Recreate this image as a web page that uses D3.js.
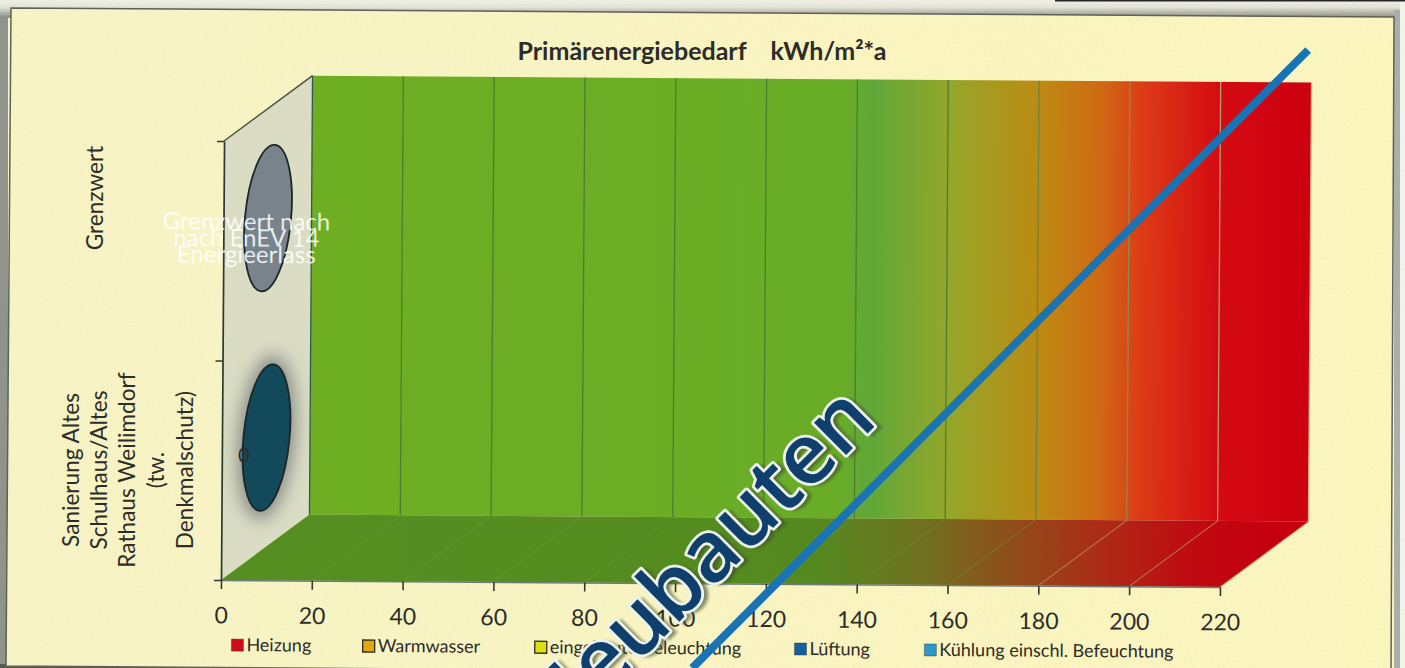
<!DOCTYPE html>
<html>
<head>
<meta charset="utf-8">
<script src="https://cdn.jsdelivr.net/npm/d3@7"></script>
<style>
  html, body { margin: 0; padding: 0; background: #fbf6c6; overflow: hidden; }
  text { font-family: Lato, "Open Sans", sans-serif; fill: #2c2c28; }
</style>
</head>
<body>
<div id="chart"></div>
<script>
// chart data
const title = "Primärenergiebedarf    kWh/m²*a";
const categories = ["Grenzwert", "Sanierung"];
const categoryLines = [
  ["Grenzwert"],
  ["Sanierung Altes", "Schulhaus/Altes", "Rathaus Weilimdorf", "(tw.", "Denkmalschutz)"]
];
const barValues = [0, 0];
const barColors = ["#78838b", "#124a5c"];
const valueTicks = [0, 20, 40, 60, 80, 100, 120, 140, 160, 180, 200, 220];
const grenzwertLabel = ["Grenzwert nach", "nach EnEV 14", "Energieerlass"];
const legendNames = ["Heizung", "Warmwasser", "eingebaute Beleuchtung", "Lüftung", "Kühlung einschl. Befeuchtung"];
const legendColors = ["#d0091c", "#e0a80e", "#dede10", "#12609c", "#2f97c9"];
const legendAt = [2.4, 31.3, 69.2, 126.4, 155]; // legend swatches, read in kWh on the value axis
// the diagonal "Neubauten" line, [kWh, share of wall height]
const neubautenLine = [[103.9, -0.193], [238.6, 1.2246]];
const wallStops = [
  [0, "#6fae22"], [0.53, "#69ad27"], [0.56, "#5fa838"], [0.64, "#94a72a"],
  [0.73, "#bd8a12"], [0.79, "#cf6a14"], [0.83, "#dc3c16"], [0.91, "#d40a12"], [1, "#cc0010"]
];
const floorStops = [
  [0, "#558f22"], [0.55, "#548a1f"], [0.66, "#70701f"],
  [0.76, "#94481a"], [0.84, "#ad2a16"], [0.92, "#bf0c12"], [1, "#c40010"]
];

const width = 1405;
const height = 668;
const depth = { dx: 88, dy: -66 };

const svg = d3.select("#chart").append("svg")
  .attr("width", width)
  .attr("height", height);

const defs = svg.append("defs");

// gradients
function addGradient(id, stops, x1, x2) {
  const g = defs.append("linearGradient")
    .attr("id", id)
    .attr("gradientUnits", "userSpaceOnUse")
    .attr("x1", x1).attr("x2", x2)
    .attr("y1", 0).attr("y2", 0);
  stops.forEach(s => {
    g.append("stop").attr("offset", s[0]).attr("stop-color", s[1]);
  });
}

const blur = defs.append("filter").attr("id", "glow")
  .attr("x", "-60%").attr("y", "-30%").attr("width", "220%").attr("height", "160%");
blur.append("feGaussianBlur").attr("stdDeviation", 9);

const shadow = defs.append("filter").attr("id", "soft");
shadow.append("feGaussianBlur").attr("stdDeviation", 1);

const paper = defs.append("linearGradient").attr("id", "paper");
paper.append("stop").attr("offset", 0).attr("stop-color", "#f8f4c6");
paper.append("stop").attr("offset", 1).attr("stop-color", "#fcf6bf");

const band8 = defs.append("linearGradient").attr("id", "topband").attr("x2", 0).attr("y2", 1);
band8.append("stop").attr("offset", 0).attr("stop-color", "#f1f1e6");
band8.append("stop").attr("offset", 0.4).attr("stop-color", "#e4e4d8");
band8.append("stop").attr("offset", 1).attr("stop-color", "#868a80");

// scan grain
const grain = defs.append("filter").attr("id", "grain");
grain.append("feTurbulence").attr("type", "fractalNoise").attr("baseFrequency", 0.7).attr("numOctaves", 2).attr("seed", 4);
grain.append("feColorMatrix").attr("values", "0 0 0 0 0.45  0 0 0 0 0.42  0 0 0 0 0.2  0 0 0 0.5 -0.2");

// scan frame and paper
const paperEdge = [[11, 8], [1394, 17], [1391, 676], [6, 666]];
svg.append("rect").attr("width", width).attr("height", 18).attr("fill", "url(#topband)");
svg.append("rect").attr("y", 18).attr("width", 8).attr("height", 650).attr("fill", "#8e938c");
svg.append("rect").attr("x", 1394).attr("y", 10).attr("width", 11).attr("height", 658).attr("fill", "#a9b0aa");
svg.append("rect").attr("x", 1400).attr("width", 5).attr("height", 668).attr("fill", "#f4f4ee");
svg.append("rect").attr("y", 664).attr("width", 500).attr("height", 4).attr("fill", "#55584f");
svg.append("polygon")
  .attr("points", paperEdge.map(p => p.join(",")).join(" "))
  .attr("fill", "url(#paper)")
  .attr("stroke", "#5c6058").attr("stroke-width", 1.5);
svg.append("rect").attr("x", 1055).attr("y", 0).attr("width", 350).attr("height", 1.5).attr("fill", "#222");
svg.append("polygon")
  .attr("points", paperEdge.map(p => p.join(",")).join(" "))
  .attr("filter", "url(#grain)")
  .attr("opacity", 0.35);

// the whole chart sits slightly skewed on the scan
const plot = svg.append("g").attr("transform", "rotate(0.4 221 580)");

const x = d3.scaleLinear().domain([0, 220]).range([221, 1220]);
const y = d3.scaleLinear().domain([0, 1]).range([580, 141]);
const band = d3.scaleBand().domain(categories.slice().reverse()).range([580, 141]);

addGradient("wall", wallStops, x(0) + depth.dx, x(220) + depth.dx);
addGradient("floor", floorStops, x(0) + depth.dx / 2, x(220) + depth.dx / 2);

const backX = v => x(v) + depth.dx;
const backY = h => y(h) + depth.dy;
const pts = a => a.map(p => p.join(",")).join(" ");

// side wall
plot.append("polygon")
  .attr("points", pts([[x(0), y(0)], [x(0), y(1)], [backX(0), backY(1)], [backX(0), backY(0)]]))
  .attr("fill", "#dadcc4");

// back wall
plot.append("polygon")
  .attr("points", pts([[backX(0), backY(0)], [backX(0), backY(1)], [backX(220), backY(1)], [backX(220), backY(0)]]))
  .attr("fill", "url(#wall)");

// floor
plot.append("polygon")
  .attr("points", pts([[x(0), y(0)], [backX(0), backY(0)], [backX(220), backY(0)], [x(220), y(0)]]))
  .attr("fill", "url(#floor)");

// gridlines on wall and floor
const gridColor = d3.scaleLinear().domain([20, 140, 180, 220]).range(["#4f7d33", "#4f7d33", "#8a8a55", "#e0b080"]);
plot.selectAll(".grid-wall")
  .data(valueTicks.slice(1))
  .enter().append("line")
  .attr("x1", d => backX(d)).attr("x2", d => backX(d))
  .attr("y1", backY(0)).attr("y2", backY(1))
  .attr("stroke", d => gridColor(d))
  .attr("stroke-width", 1.3);

plot.selectAll(".grid-floor")
  .data(valueTicks.slice(1))
  .enter().append("line")
  .attr("x1", d => x(d)).attr("x2", d => backX(d))
  .attr("y1", y(0)).attr("y2", backY(0))
  .attr("stroke", d => d > 170 ? "#b98a5e" : "#6f9a45")
  .attr("stroke-opacity", d => d > 170 ? 0.9 : 0.45)
  .attr("stroke-width", 1);

// axis lines
plot.append("line")
  .attr("x1", x(0)).attr("x2", backX(0))
  .attr("y1", y(1)).attr("y2", backY(1))
  .attr("stroke", "#4a5044").attr("stroke-width", 1.5);
plot.append("line")
  .attr("x1", backX(0)).attr("x2", backX(0))
  .attr("y1", backY(0)).attr("y2", backY(1))
  .attr("stroke", "#2f5a4a").attr("stroke-width", 1.3);

const xAxis = d3.axisBottom(x).tickValues(valueTicks).tickSize(9).tickPadding(18).tickSizeOuter(0);
const gx = plot.append("g").attr("transform", `translate(0,${y(0)})`).call(xAxis);
gx.select(".domain").attr("stroke", "#6d7a78").attr("stroke-width", 1.6);
gx.selectAll(".tick line").attr("stroke", "#33382f").attr("stroke-width", 1.6);
gx.selectAll("text").style("font-size", "23px").style("font-family", "Lato").attr("fill", "#2c2c28");

const yAxis = d3.axisLeft(y).tickValues([0, 0.5, 1]).tickSize(7).tickFormat("").tickSizeOuter(0);
const gy = plot.append("g").attr("transform", `translate(${x(0)},0)`).call(yAxis);
gy.select(".domain").attr("stroke", "#2c3a36").attr("stroke-width", 1.7);
gy.selectAll(".tick line").attr("stroke", "#33382f").attr("stroke-width", 1.4);

// the two bars have no value, so only their flat end caps show
const capX = v => x(v) + depth.dx / 2 + 0.5;
const capY = c => band(c) + band.bandwidth() / 2 + depth.dy / 2;

plot.append("ellipse")
  .attr("cx", capX(barValues[1])).attr("cy", capY(categories[1]))
  .attr("rx", 27).attr("ry", 82)
  .attr("transform", `rotate(5 ${capX(barValues[1])} ${capY(categories[1])})`)
  .attr("fill", "#60666a").attr("opacity", 0.75).attr("filter", "url(#glow)");

plot.selectAll(".cap")
  .data(categories)
  .enter().append("ellipse")
  .attr("cx", (d, i) => capX(barValues[i]))
  .attr("cy", d => capY(d))
  .attr("rx", 23)
  .attr("ry", 73.5)
  .attr("transform", (d, i) => `rotate(5 ${capX(barValues[i])} ${capY(d)})`)
  .attr("fill", (d, i) => barColors[i])
  .attr("stroke", "#1d2626")
  .attr("stroke-width", 1.8);

// data labels
plot.append("text")
  .attr("x", x(barValues[1]) + 22).attr("y", capY(categories[1]) + 25)
  .attr("text-anchor", "middle")
  .style("font-size", "20px")
  .text(barValues[1]);

grenzwertLabel.forEach((t, i) => {
  plot.append("text")
    .attr("x", x(0) + 23)
    .attr("y", capY(categories[0]) + 12 + i * 16.5)
    .attr("text-anchor", "middle")
    .style("font-size", "24px")
    .style("fill", "#ffffff")
    .style("fill-opacity", 0.85)
    .text(t);
});

// category labels, rotated
categoryLines.forEach((lines, c) => {
  const cy = c === 0 ? 198 : 470;
  const lineX = c === 0 ? [95] : [71, 99, 127, 156, 185];
  lines.forEach((t, i) => {
    svg.append("text")
      .attr("transform", `translate(${lineX[i] + 8},${cy}) rotate(-90)`)
      .attr("text-anchor", "middle")
      .style("font-size", "22.6px")
      .text(t);
  });
});

// title
svg.append("text")
  .attr("x", 702).attr("y", 60)
  .attr("text-anchor", "middle")
  .attr("xml:space", "preserve")
  .style("font-size", "25px")
  .style("font-weight", 700)
  .style("white-space", "pre")
  .text(title);

// legend
const legend = plot.selectAll(".legend")
  .data(legendNames)
  .enter().append("g")
  .attr("transform", (d, i) => `translate(${x(legendAt[i])},${y(0) + 65})`);
legend.append("rect")
  .attr("y", -6).attr("width", 12).attr("height", 12)
  .attr("fill", (d, i) => legendColors[i])
  .attr("stroke", "#2b2b20").attr("stroke-width", (d, i) => i === 1 || i === 2 ? 1.3 : 0.4);
legend.append("text")
  .attr("x", 15).attr("y", 6)
  .style("font-size", "18px")
  .text(d => d);

// diagonal line and the word across it
const diagonal = d3.line().x(d => x(d[0])).y(d => y(d[1]));
plot.append("path")
  .attr("d", diagonal(neubautenLine))
  .attr("fill", "none")
  .attr("stroke", "#1a74b4")
  .attr("stroke-width", 8);

const word = svg.append("g").attr("transform", "translate(879,422) rotate(-45)");
function addWord() {
  return word.append("text")
    .attr("text-anchor", "end")
    .style("font-family", "'Open Sans'")
    .style("font-size", "84px")
    .style("font-weight", 600)
    .style("fill", "#0f3f6d")
    .text("Neubauten");
}
addWord().attr("x", 3).attr("y", 4)
  .style("fill", "#3f4a30").style("fill-opacity", 0.5)
  .style("stroke", "#3f4a30").style("stroke-width", 5).style("stroke-opacity", 0.4)
  .attr("filter", "url(#soft)");
addWord()
  .style("stroke", "#eef3ea").style("stroke-width", 5.5)
  .style("stroke-linejoin", "round");
addWord();
</script>
</body>
</html>
